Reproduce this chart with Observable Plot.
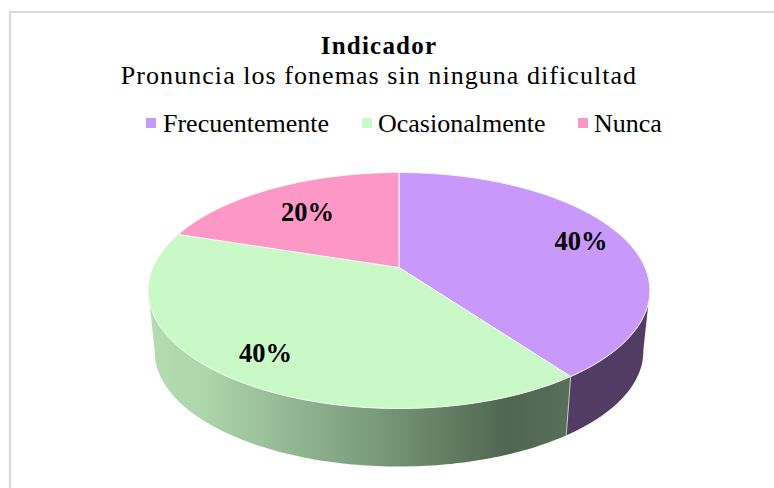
<!DOCTYPE html>
<html lang="es">
<head>
<meta charset="utf-8">
<script src="https://cdn.jsdelivr.net/npm/d3@7"></script>
<script src="https://cdn.jsdelivr.net/npm/@observablehq/plot@0.6"></script>
<style>
  html, body { margin: 0; padding: 0; background: #fff; }
  #card { position: relative; width: 774px; height: 488px; overflow: hidden; font-family: "Liberation Serif", serif; color: #000; }
  #frame { position: absolute; left: 9px; top: 11px; width: 800px; height: 500px; border-left: 2px solid #d9d9d9; border-top: 2px solid #d9d9d9; }
  #head { position: absolute; left: 0; top: 0; width: 774px; height: 150px; }
  #title, #subtitle { position: absolute; left: 0; width: 758px; text-align: center; white-space: nowrap; }
  #title { top: 33px; font-size: 25px; font-weight: bold; letter-spacing: 1.2px; line-height: 26px; }
  #subtitle { top: 62px; font-size: 26px; letter-spacing: 1.05px; line-height: 28px; }
  .lg { position: absolute; top: 110px; font-size: 26px; line-height: 28px; white-space: nowrap; }
  .sw { position: absolute; top: 118px; width: 10px; height: 10px; }
  #chart { position: absolute; left: 0; top: 150px; }
  #chart svg { display: block; }
</style>
</head>
<body>
<div id="card">
  <div id="frame"></div>
  <div id="head">
    <div id="title"></div>
    <div id="subtitle"></div>
  </div>
  <div id="chart"></div>
</div>
<script>
const chartTitle = "Indicador";
const chartSubtitle = "Pronuncia los fonemas sin ninguna dificultad";
const categories = ["Frecuentemente", "Ocasionalmente", "Nunca"];
const percents = [40, 40, 20];
const topColors = ["#c998fb", "#caf9c8", "#fd97c5"];

// --- projection of a tilted disc (clockwise angle from 12 o'clock) ---
const tilt = 0.195, shrink = 0.974, drop = 0.5436;
const project = (deg, r = 1) => {
  const a = deg * Math.PI / 180, u = r * Math.sin(a), v = -r * Math.cos(a), d = 1 - tilt * v;
  return {px: u / d, py: v / d};
};
const arc = (a0, a1) => d3.range(0, 121).map(i => a0 + (a1 - a0) * i / 120);

// cumulated angles from the values
const total = d3.sum(percents);
let run = 0;
const slices = categories.map((name, i) => {
  const a0 = run / total * 360; run += percents[i];
  return {name, value: percents[i], a0, a1: run / total * 360};
});

const topRows = slices.flatMap(s => [
  {name: s.name, px: 0, py: 0},
  ...arc(s.a0, s.a1).map(a => ({name: s.name, ...project(a)})),
  {name: s.name, px: 0, py: 0}
]);

// visible wall pieces: only the front of the cylinder
const sideStart = 101, sideEnd = 259;
const wall = (a0, a1) => {
  const rim = arc(a0, a1).map(a => project(a));
  const low = arc(a1, a0).map(a => {
    const p = project(a);
    return {px: p.px * shrink, py: p.py * shrink + drop};
  });
  return [...rim, ...low, rim[0]];
};
const purpleWall = wall(sideStart, slices[0].a1);
const greenWall = wall(slices[1].a0, sideEnd);
const seamTop = project(slices[0].a1);
const seam = [seamTop, {px: seamTop.px * shrink, py: seamTop.py * shrink + drop}];

const labelReachX = [0.825, 0.777, 0.732];
const labelReachY = [0.82, 0.78, 0.70];
const labelRows = slices.map((s, i) => {
  const p = project((s.a0 + s.a1) / 2);
  return {text: s.value + "%", px: p.px * labelReachX[i], py: p.py * labelReachY[i]};
});

// --- gradient for the shaded wall ---
const gradientDefs = (index, {x}) => {
  const ns = "http://www.w3.org/2000/svg";
  const defs = document.createElementNS(ns, "defs");
  const g = document.createElementNS(ns, "linearGradient");
  g.setAttribute("id", "greenSide");
  g.setAttribute("gradientUnits", "userSpaceOnUse");
  g.setAttribute("x1", x(-1)); g.setAttribute("x2", x(0.7)); g.setAttribute("y1", 0); g.setAttribute("y2", 0);
  [[0, "#b3dcb1"], [0.12, "#aed5ac"], [0.5, "#7e9f7e"], [0.85, "#4f6650"], [1, "#586f59"]].forEach(([o, c]) => {
    const st = document.createElementNS(ns, "stop");
    st.setAttribute("offset", o); st.setAttribute("stop-color", c);
    g.appendChild(st);
  });
  defs.appendChild(g);
  return defs;
};

document.getElementById("title").textContent = chartTitle;
document.getElementById("subtitle").textContent = chartSubtitle;
const head = document.getElementById("head");
[[146, 163], [362, 378], [578, 594]].forEach(([sx, tx], i) => {
  const sw = document.createElement("div");
  sw.className = "sw"; sw.style.left = sx + "px"; sw.style.background = topColors[i];
  const t = document.createElement("div");
  t.className = "lg"; t.style.left = tx + "px"; t.textContent = categories[i];
  head.append(sw, t);
});

const plot = Plot.plot({
  width: 774,
  height: 338,
  margin: 0,
  x: {domain: [-1, 1], range: [152.5, 644.5], axis: null},
  y: {domain: [-1, 1], range: [3.5, 230.5], axis: null},
  color: {domain: categories, range: topColors},
  marks: [
    gradientDefs,
    Plot.line(greenWall, {x: "px", y: "py", fill: "url(#greenSide)", stroke: "none"}),
    Plot.line(purpleWall, {x: "px", y: "py", fill: "#533c63", stroke: "none"}),
    Plot.line(seam, {x: "px", y: "py", stroke: "#c4c8c4", strokeWidth: 1}),
    Plot.line(topRows, {x: "px", y: "py", z: "name", fill: "name", stroke: "#f4f4f4", strokeWidth: 1, strokeLinejoin: "round"}),
    Plot.text(labelRows, {x: "px", y: "py", dy: 1, text: "text", fontSize: 26.5, fontWeight: "bold", fontFamily: "Liberation Serif", fill: "#000"})
  ]
});
document.getElementById("chart").appendChild(plot);
</script>
</body>
</html>
